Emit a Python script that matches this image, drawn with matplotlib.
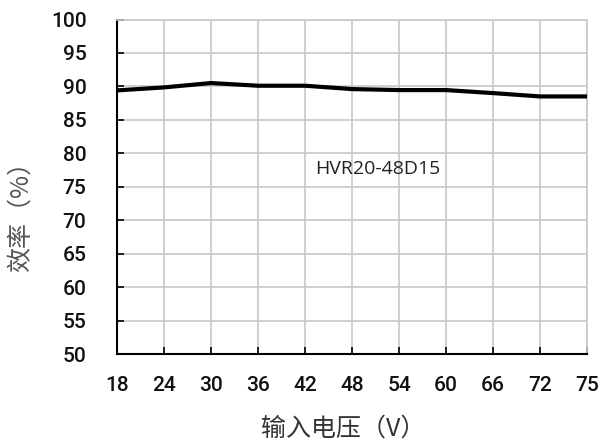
import matplotlib
matplotlib.use("Agg")
import matplotlib.pyplot as plt

plt.rcParams['font.family'] = ['Roboto', 'Noto Sans CJK SC']

# 输入电压 (V) 与效率 (%)
voltages = ['18', '24', '30', '36', '42', '48', '54', '60', '66', '72', '75']
efficiency = [89.4, 89.85, 90.5, 90.1, 90.1, 89.6, 89.45, 89.45, 89.0, 88.5, 88.5]
y_ticks = [50, 55, 60, 65, 70, 75, 80, 85, 90, 95, 100]

fig = plt.figure(figsize=(6.04, 4.41), dpi=100)
ax = fig.add_axes([117 / 604, 1 - 354 / 441, 470 / 604, 334.5 / 441])

x = list(range(len(voltages)))
ax.plot(x, efficiency, color='black', lw=3, solid_capstyle='round',
        solid_joinstyle='round', zorder=3)

ax.set_xlim(0, len(voltages) - 1)
ax.set_ylim(50, 100)
ax.set_xticks(x)
ax.set_xticklabels(voltages)
ax.set_yticks(y_ticks)
ax.grid(True, color='#c8c8c8', lw=1.2)
ax.tick_params(direction='in', length=5, width=1.2, labelsize=15, pad=16,
               labelcolor='#111111')
ax.tick_params(axis='y', pad=22)
for lab in ax.get_xticklabels() + ax.get_yticklabels():
    lab.set_fontweight('medium')

for side in ['top', 'right']:
    ax.spines[side].set_color('#c8c8c8')
    ax.spines[side].set_linewidth(1.2)
for side in ['left', 'bottom']:
    ax.spines[side].set_linewidth(1.5)

ax.text(5.55, 77.6, 'HVR20-48D15', fontsize=14, color='#222222',
        ha='center', va='center', family=['Open Sans', 'DejaVu Sans'])

ax.set_xlabel('输入电压（V）', fontsize=18, color='#333333',
              family=['Noto Sans CJK SC', 'DejaVu Sans'])
ax.set_ylabel('效率（%）', fontsize=18, color='#555555',
              family=['Noto Sans CJK SC', 'DejaVu Sans'])
ax.xaxis.set_label_coords(0.482, -0.185)
ax.yaxis.set_label_coords(-0.177, 0.43)

fig.savefig('out.png', dpi=100)
